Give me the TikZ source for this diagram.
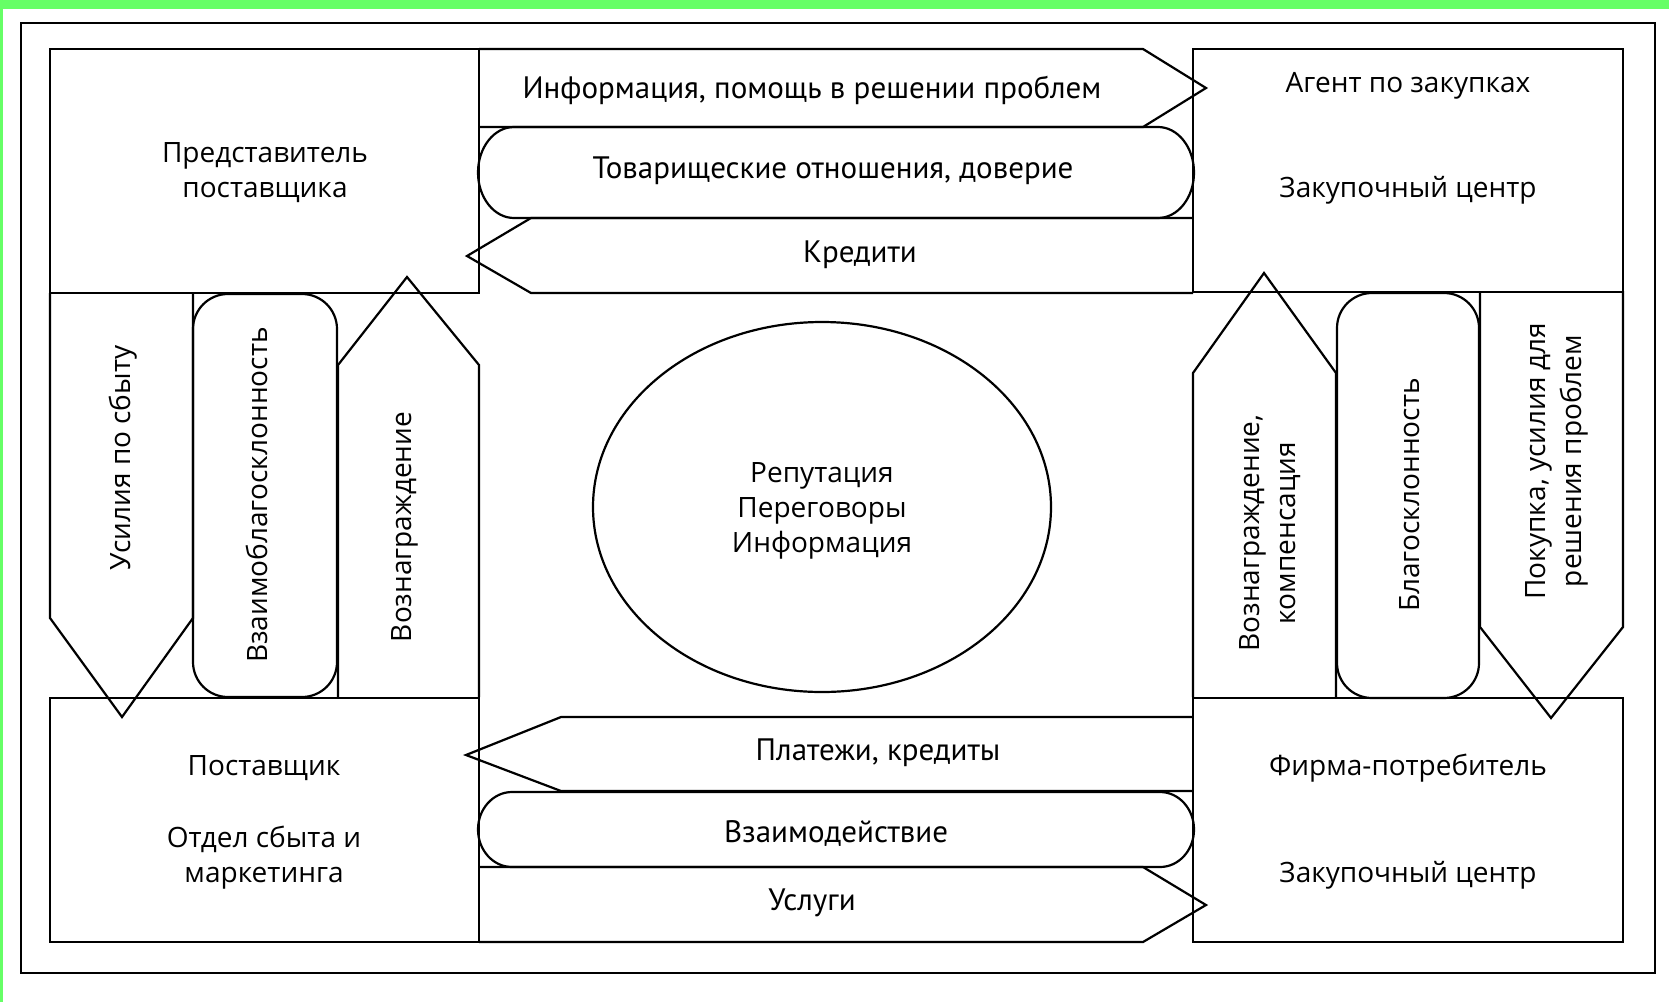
\documentclass[tikz,border=0pt]{standalone}
\usepackage{fontspec}
\setmainfont{Open Sans}
\newfontfamily\bandfont{PT Sans}
\definecolor{bggreen}{RGB}{102,255,102}
\begin{document}
\begin{tikzpicture}[x=1pt,y=-1pt,line width=2.2pt,line join=miter,
  lbl/.style={font=\fontsize{28}{35}\selectfont,inner sep=0pt,align=center},
  bandlbl/.style={font=\bandfont\fontsize{31}{36}\selectfont,inner sep=0pt},
  vlbl/.style={font=\fontsize{28}{36}\selectfont,inner sep=0pt,align=center,rotate=90},
  outl/.style={draw=black}]
\fill[bggreen] (0,0) rectangle (1669,1002);
\fill[white] (3,9) rectangle (1669,1002);
\useasboundingbox (0,0) rectangle (1669,1002);
% outer frame
\draw[outl] (21,23) rectangle (1655,973);
% corner boxes
\draw[outl] (50,49) rectangle (479,293);
\draw[outl] (1193,49) rectangle (1623,292);
\draw[outl] (50,698) rectangle (479,942);
\draw[outl] (1193,698) rectangle (1623,942);
% top band
\draw[outl] (479,49) -- (1143,49) -- (1206,88) -- (1143,127) -- (479,127);
\draw[outl] (514,127) -- (1158,127) arc[start angle=-90,end angle=90,x radius=36,y radius=45.5]
  -- (514,218) arc[start angle=90,end angle=270,x radius=36,y radius=45.5] -- cycle;
\draw[outl] (1193,218) -- (531,218) -- (467,256) -- (531,293) -- (1193,293);
% bottom band
\draw[outl] (1193,717) -- (561,717) -- (466,755) -- (561,791) -- (1193,791);
\draw[outl] (512,792) -- (1160,792) arc[start angle=-90,end angle=90,x radius=34,y radius=37.5]
  -- (512,867) arc[start angle=90,end angle=270,x radius=34,y radius=37.5] -- cycle;
\draw[outl] (479,867) -- (1143,867) -- (1206,905) -- (1143,942) -- (479,942);
% left column
\draw[outl] (50,293) -- (50,618) -- (122,717) -- (193,618) -- (193,293);
\draw[outl,rounded corners=35pt] (193,294) rectangle (337,697);
\draw[outl] (338,697) -- (338,365) -- (407,277) -- (479,365) -- (479,697);
% right column
\draw[outl] (1193,697) -- (1193,373) -- (1264,273) -- (1336,373) -- (1336,697);
\draw[outl,rounded corners=35pt] (1337,293) rectangle (1479,698);
\draw[outl] (1480,291) -- (1480,627) -- (1551,718) -- (1623,627) -- (1623,291);
% centre ellipse
\draw[outl] (822,507) ellipse[x radius=229,y radius=185];
% texts
\node[lbl,anchor=base] (predst1) at (265,162) {Представитель};
\node[lbl,anchor=base] (predst2) at (265,197) {поставщика};
\node[lbl,anchor=base] (agent) at (1408,92) {Агент по закупках};
\node[lbl,anchor=base] (zak1) at (1408,197) {Закупочный центр};
\node[lbl,anchor=base] (post) at (264,775) {Поставщик};
\node[lbl,anchor=base] (otdel1) at (264,847) {Отдел сбыта и};
\node[lbl,anchor=base] (otdel2) at (264,882) {маркетинга};
\node[lbl,anchor=base] (firma) at (1408,775) {Фирма-потребитель};
\node[lbl,anchor=base] (zak2) at (1408,882) {Закупочный центр};
\node[lbl,anchor=base] (rep) at (822,482) {Репутация};
\node[lbl,anchor=base] (pereg) at (822,517) {Переговоры};
\node[lbl,anchor=base] (inf) at (822,552) {Информация};
\node[bandlbl,anchor=base] (info) at (812,98) {Информация, помощь в решении проблем};
\node[bandlbl,anchor=base] (tovar) at (833,178) {Товарищеские отношения, доверие};
\node[bandlbl,anchor=base] (kred) at (860,262) {Кредити};
\node[bandlbl,anchor=base] (plat) at (878,760) {Платежи, кредиты};
\node[bandlbl,anchor=base] (vzaim) at (836,842) {Взаимодействие};
\node[bandlbl,anchor=base] (usl) at (812,910) {Услуги};
\node[vlbl] (usil) at (123,458) {Усилия по сбыту};
\node[vlbl] (vzblag) at (257,495) {Взаимоблагосклонность};
\node[vlbl] (vozn) at (405,527) {Вознаграждение};
\node[vlbl] (vozn2) at (1270,533) {Вознаграждение,\\компенсация};
\node[vlbl] (blag) at (1410,495) {Благосклонность};
\node[vlbl] (pokup) at (1557,461) {Покупка, усилия для\\решения проблем};
\end{tikzpicture}
\end{document}
